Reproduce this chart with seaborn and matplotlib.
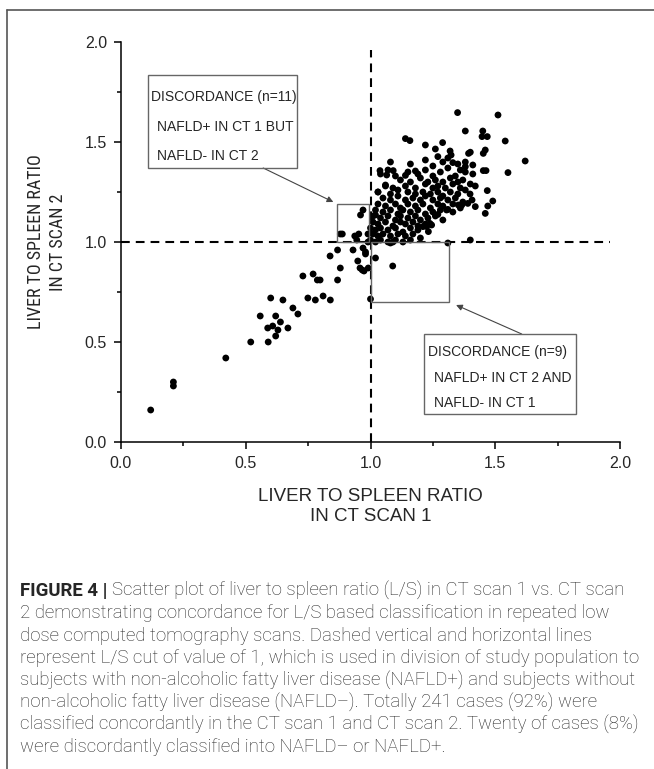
import matplotlib
matplotlib.use("Agg")
import matplotlib.pyplot as plt
from matplotlib import font_manager
from matplotlib.patches import Rectangle
from matplotlib.lines import Line2D
import pandas as pd
import seaborn as sns

# L/S ratio, CT scan 1 (x) vs CT scan 2 (y)
ct1_tail = [0.119, 0.21, 0.21, 0.42, 0.52, 0.59, 0.558, 0.588, 0.608, 0.62, 0.639, 0.629, 0.62, 0.669,
            0.60, 0.649, 0.689, 0.709, 0.729, 0.77, 0.787, 0.798, 0.749, 0.779, 0.81, 0.839, 0.838,
            0.868, 0.879, 0.868, 0.879, 0.887, 0.93, 0.949, 0.958, 0.967, 0.974, 0.991, 0.97, 0.98,
            0.98, 0.937, 0.945, 0.953, 0.96, 0.97, 0.99, 0.99]
ct2_tail = [0.16, 0.30, 0.28, 0.42, 0.50, 0.50, 0.63, 0.57, 0.58, 0.63, 0.60, 0.56, 0.53, 0.57,
            0.72, 0.71, 0.67, 0.64, 0.83, 0.84, 0.81, 0.81, 0.72, 0.71, 0.73, 0.71, 0.93,
            0.96, 0.87, 0.81, 1.04, 1.04, 0.96, 0.905, 0.87, 0.86, 0.855, 0.87, 0.97, 0.95,
            0.94, 1.03, 1.01, 1.04, 1.135, 1.16, 1.04, 1.00]

ct1_edge = [1.00, 1.02, 1.089, 1.40, 1.31, 1.08, 1.09, 1.06,
            1.349, 1.511, 1.38, 1.45, 1.447, 1.468, 1.54, 1.14, 1.158, 1.22, 1.289, 1.26,
            1.319, 1.323, 1.33, 1.393, 1.40, 1.46, 1.452, 1.62, 1.27, 1.41, 1.38, 1.38, 1.38,
            1.452, 1.463, 1.551, 1.091, 1.065, 1.038, 1.14, 1.18, 1.468, 1.49, 1.47, 1.46,
            1.42, 1.399, 1.407, 1.305, 1.31, 1.27, 1.238, 1.245, 1.225, 1.232, 1.21, 1.366,
            1.352, 1.39, 1.02, 1.03]
ct2_edge = [0.715, 0.92, 0.88, 1.01, 0.995, 0.995, 1.00, 1.285,
            1.647, 1.635, 1.555, 1.555, 1.527, 1.527, 1.505, 1.517, 1.507, 1.485, 1.497, 1.465,
            1.455, 1.435, 1.397, 1.443, 1.449, 1.46, 1.443, 1.405, 1.427, 1.385, 1.40, 1.377, 1.35,
            1.357, 1.357, 1.347, 1.357, 1.335, 1.357, 1.333, 1.355, 1.257, 1.205, 1.18, 1.143,
            1.177, 1.24, 1.21, 1.16, 1.163, 1.138, 1.093, 1.085, 1.077, 1.052, 1.077, 1.185,
            1.185, 1.193, 1.135, 1.25]

ct1_core = [1.04, 1.07, 1.10, 1.15, 1.19, 1.22, 1.25, 1.28, 1.31, 1.34, 1.36, 1.41,
            1.12, 1.16, 1.20, 1.23, 1.26, 1.29, 1.32, 1.35, 1.37, 1.40,
            1.06, 1.09, 1.14, 1.18, 1.22, 1.25, 1.27, 1.30, 1.33, 1.36, 1.42,
            1.03, 1.08, 1.11, 1.15, 1.18, 1.21, 1.24, 1.27, 1.29, 1.32, 1.35, 1.38,
            1.05, 1.08, 1.11, 1.14, 1.17, 1.20, 1.22, 1.25, 1.28, 1.31, 1.34, 1.37,
            1.03, 1.06, 1.10, 1.12, 1.15, 1.18, 1.21, 1.24, 1.27, 1.29, 1.33, 1.36,
            1.02, 1.05, 1.08, 1.11, 1.13, 1.16, 1.19, 1.22, 1.25, 1.28, 1.33,
            1.01, 1.04, 1.07, 1.10, 1.12, 1.15, 1.18, 1.20, 1.23, 1.26, 1.29,
            1.01, 1.03, 1.06, 1.09, 1.12, 1.14, 1.17, 1.19, 1.22,
            1.00, 1.02, 1.04, 1.07, 1.10, 1.13, 1.16, 1.19,
            1.01, 1.03, 1.05, 1.08, 1.11, 1.14, 1.17, 1.20,
            1.00, 1.02, 1.04, 1.07, 1.10, 1.13, 1.16,
            1.08, 1.16, 1.22, 1.25, 1.29, 1.31, 1.35]
ct2_core = [1.34, 1.36, 1.33, 1.35, 1.34, 1.36, 1.33, 1.35, 1.37, 1.33, 1.36, 1.34,
            1.31, 1.30, 1.32, 1.30, 1.31, 1.30, 1.32, 1.30, 1.31, 1.29,
            1.28, 1.27, 1.28, 1.27, 1.29, 1.27, 1.28, 1.27, 1.29, 1.27, 1.28,
            1.25, 1.24, 1.26, 1.25, 1.24, 1.25, 1.24, 1.25, 1.23, 1.25, 1.24, 1.26,
            1.22, 1.21, 1.23, 1.21, 1.22, 1.21, 1.23, 1.21, 1.22, 1.21, 1.22, 1.20,
            1.19, 1.18, 1.19, 1.17, 1.19, 1.18, 1.19, 1.17, 1.19, 1.18, 1.19, 1.17,
            1.16, 1.15, 1.16, 1.14, 1.16, 1.15, 1.16, 1.14, 1.15, 1.16, 1.15,
            1.13, 1.12, 1.13, 1.11, 1.13, 1.12, 1.13, 1.11, 1.12, 1.13, 1.11,
            1.10, 1.09, 1.10, 1.08, 1.10, 1.09, 1.10, 1.08, 1.09,
            1.07, 1.06, 1.07, 1.06, 1.07, 1.05, 1.07, 1.06,
            1.04, 1.03, 1.04, 1.03, 1.04, 1.03, 1.04, 1.02,
            1.01, 1.00, 1.01, 1.00, 1.01, 1.00, 1.01,
            1.40, 1.39, 1.41, 1.38, 1.40, 1.42, 1.39]

caption_lines = [
    "Scatter plot of liver to spleen ratio (L/S) in CT scan 1 vs. CT scan",
    "2 demonstrating concordance for L/S based classification in repeated low",
    "dose computed tomography scans. Dashed vertical and horizontal lines",
    "represent L/S cut of value of 1, which is used in division of study population to",
    "subjects with non-alcoholic fatty liver disease (NAFLD+) and subjects without",
    "non-alcoholic fatty liver disease (NAFLD\u2013). Totally 241 cases (92%) were",
    "classified concordantly in the CT scan 1 and CT scan 2. Twenty of cases (8%)",
    "were discordantly classified into NAFLD\u2013 or NAFLD+.",
]

df = pd.DataFrame({
    "ct1": ct1_tail + ct1_edge + ct1_core,
    "ct2": ct2_tail + ct2_edge + ct2_core,
})

sns.set_style("ticks")
plt.rcParams["font.family"] = ["Liberation Sans", "DejaVu Sans"]

# narrow face for the y label if one is installed
names = {f.name for f in font_manager.fontManager.ttflist}
narrow = [n for n in ["Liberation Sans Narrow", "DejaVu Sans Condensed", "Roboto Condensed"] if n in names]
if narrow:
    ylab_font = dict(family=[narrow[0], "Liberation Sans"], fontsize=13)
else:
    ylab_font = dict(family=["Liberation Sans"], fontsize=11)

W, H = 654, 769
fig = plt.figure(figsize=(W / 100, H / 100), dpi=100)
ax = fig.add_axes([121 / W, 1 - 442 / H, 499 / W, 400 / H])

sns.scatterplot(data=df, x="ct1", y="ct2", color="black", s=24, edgecolor="none", ax=ax, zorder=3)

ax.set_xlim(0, 2)
ax.set_ylim(0, 2)
ax.set_xticks([0, 0.5, 1.0, 1.5, 2.0])
ax.set_yticks([0, 0.5, 1.0, 1.5, 2.0])
ax.set_xticks([0.25, 0.75, 1.25, 1.75], minor=True)
ax.set_yticks([0.25, 0.75, 1.25, 1.75], minor=True)
ax.set_xticklabels(["0.0", "0.5", "1.0", "1.5", "2.0"])
ax.set_yticklabels(["0.0", "0.5", "1.0", "1.5", "2.0"])
ax.tick_params(which="major", direction="out", length=5, width=1.1, labelsize=11.5, pad=5, color="black")
ax.tick_params(which="minor", direction="out", length=3, width=1.1, color="black")
for s in ["top", "right"]:
    ax.spines[s].set_visible(False)
for s in ["left", "bottom"]:
    ax.spines[s].set_linewidth(1.1)
    ax.spines[s].set_color("black")

ax.set_xlabel("LIVER TO SPLEEN RATIO\nIN CT SCAN 1", fontsize=13.5, labelpad=12, linespacing=1.25)
ax.set_ylabel("LIVER TO SPLEEN RATIO\nIN CT SCAN 2", labelpad=13, linespacing=1.3, **ylab_font)

# cut-off lines at L/S = 1
dash = (0, (4.2, 2.9))
ax.plot([1.0, 1.0], [0, 1.96], color="black", lw=1.5, linestyle=dash, zorder=2)
ax.plot([0, 1.96], [1.0, 1.0], color="black", lw=1.5, linestyle=dash, zorder=2)

# discordance rectangles
ax.add_patch(Rectangle((0.865, 1.0), 0.128, 0.189, fill=False, ec="#666666", lw=1, zorder=4))
ax.add_patch(Rectangle((1.0, 0.70), 0.316, 0.30, fill=False, ec="#666666", lw=1, zorder=4))

# annotation boxes
ax.add_patch(Rectangle((0.108, 1.37), 0.597, 0.465, fill=False, ec="#666666", lw=1, zorder=4))
ax.add_patch(Rectangle((1.214, 0.14), 0.61, 0.40, fill=False, ec="#666666", lw=1, zorder=4))
ax.text(0.12, 1.725, "DISCORDANCE (n=11)", fontsize=10, va="center")
ax.text(0.144, 1.575, "NAFLD+ IN CT 1 BUT", fontsize=10, va="center")
ax.text(0.144, 1.43, "NAFLD- IN CT 2", fontsize=10, va="center")
ax.text(1.23, 0.45, "DISCORDANCE (n=9)", fontsize=10, va="center")
ax.text(1.254, 0.32, "NAFLD+ IN CT 2 AND", fontsize=10, va="center")
ax.text(1.254, 0.195, "NAFLD- IN CT 1", fontsize=10, va="center")

arrow = dict(arrowstyle="-|>", color="#444444", lw=0.8, mutation_scale=9, shrinkA=0, shrinkB=0)
ax.annotate("", xy=(0.851, 1.20), xytext=(0.57, 1.37), arrowprops=arrow)
ax.annotate("", xy=(1.343, 0.685), xytext=(1.606, 0.54), arrowprops=arrow)

# frame around the figure panel
fig.add_artist(Line2D([7 / W, 7 / W], [0, 1 - 10 / H], color="#555555", lw=1.2))
fig.add_artist(Line2D([7 / W, 1], [1 - 10 / H, 1 - 10 / H], color="#555555", lw=1.2))

# caption
x0 = 20 / W
y0 = 1 - 591 / H
step = 22.3 / H
cap_font = dict(fontsize=13.4, family=["Roboto", "Liberation Sans", "DejaVu Sans"], va="center")
head = fig.text(x0, y0, "FIGURE 4 |", fontweight="bold", **cap_font)
fig.canvas.draw()
bb = head.get_window_extent()
fig.text((bb.x1 + 5) / W, y0, caption_lines[0], fontweight="light", **cap_font)
for i, line in enumerate(caption_lines[1:], start=1):
    fig.text(x0, y0 - i * step, line, fontweight="light", **cap_font)

fig.savefig("out.png", dpi=100)
